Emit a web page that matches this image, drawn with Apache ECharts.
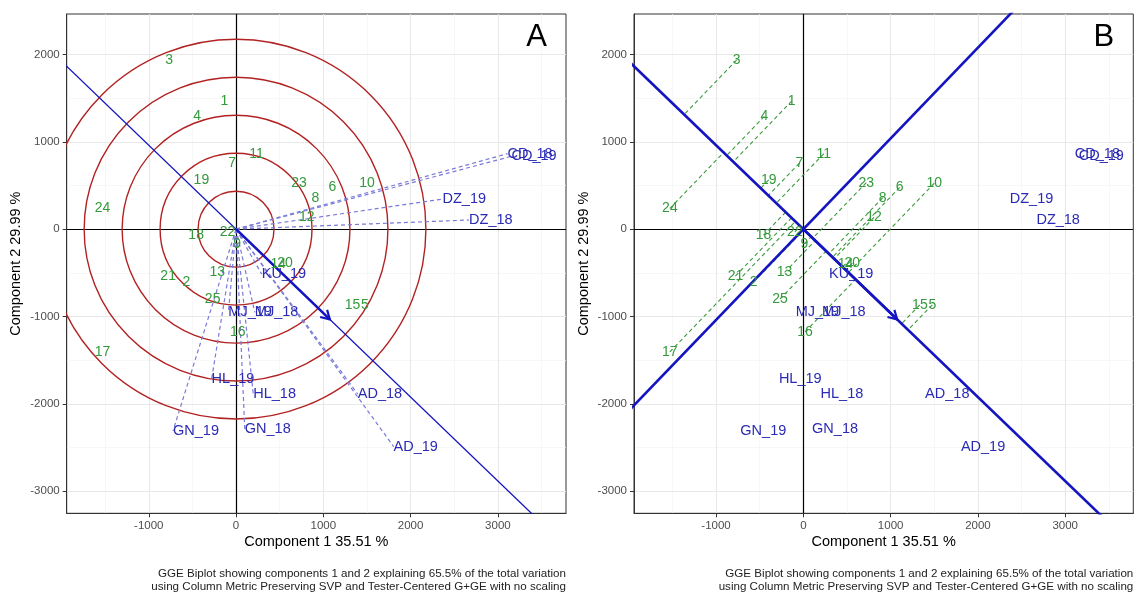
<!DOCTYPE html>
<html><head><meta charset="utf-8">
<script src="https://cdn.jsdelivr.net/npm/echarts@6/dist/echarts.min.js"></script>
<style>html,body{margin:0;padding:0;background:#fff}#c{width:1135px;height:593px}</style>
</head><body><div id="c"></div>
<script>
// ---------- data ----------
const genotypes = ['1','2','3','4','5','6','7','8','9','10','11','12','13','14','15','16','17','18','19','20','21','22','23','24','25'];
const genX = [-133, -568, -765, -447, 1477, 1103, -46, 909, 13, 1500, 235, 810, -215, 484, 1335, 20, -1530, -457, -397, 561, -778, -97, 721, -1529, -268];
const genY = [1468, -605, 1937, 1292, -866, 478, 755, 360, -166, 526, 865, 135, -496, -397, -866, -1176, -1407, -69, 564, -389, -537, -30, 533, 238, -801];

const environments = ['AD_18','AD_19','CD_18','CD_19','DZ_18','DZ_19','GN_18','GN_19','HL_18','HL_19','KU_19','MJ_18','MJ_19'];
const envX = [1395, 1805, 3110, 3155, 2670, 2365, 100, -722, 197, -280, 294, 215, -88];
const envY = [-1890, -2490, 865, 835, 105, 345, -2290, -2310, -1888, -1716, -515, -954, -954];

const aeaArrow = [1075, -1034];              // average environment vector
const circleRadii = [435, 870, 1305, 1740, 2175];

const xTicks = [-1000, 0, 1000, 2000, 3000];
const yTicks = [-3000, -2000, -1000, 0, 1000, 2000];
const xMinor = [-1500, -500, 500, 1500, 2500, 3500];
const yMinor = [-2500, -1500, -500, 500, 1500];
const xRange = [-1940, 3780];
const yRange = [-3255, 2465];

const xTitle = 'Component 1 35.51 %';
const yTitle = 'Component 2 29.99 %';
const caption1 = 'GGE Biplot showing components 1 and 2 explaining 65.5% of the total variation';
const caption2 = 'using Column Metric Preserving SVP and Tester-Centered G+GE with no scaling';
const panelLetters = ['A', 'B'];

// ---------- styles ----------
const FONT = '"Liberation Sans", Arial, Helvetica, sans-serif';
const GREEN = '#33993a';
const BLUE_TXT = '#2a2ab4';
const BLUE_LINE = '#1414c0';
const RED = '#b22222';

const grids = [
  {left: 66.7, top: 14, width: 499.3, height: 499.3},
  {left: 634, top: 14, width: 499.3, height: 499.3}
];

const chart = echarts.init(document.getElementById('c'), null, {renderer: 'canvas'});

function plain(v) { return String(v); }

function axisPair(i) {
  return {
    x: {
      type: 'value', gridIndex: i, min: xRange[0], max: xRange[1],
      axisLine: {show: true, onZero: false, lineStyle: {color: '#333', width: 1}},
      axisTick: {show: true, length: 4, customValues: xTicks, lineStyle: {color: '#333'}},
      axisLabel: {show: true, customValues: xTicks, formatter: plain, color: '#4d4d4d', fontSize: 11.5, margin: 7, fontFamily: FONT},
      splitLine: {show: false}
    },
    y: {
      type: 'value', gridIndex: i, min: yRange[0], max: yRange[1],
      axisLine: {show: true, onZero: false, lineStyle: {color: '#333', width: 1}},
      axisTick: {show: true, length: 4, customValues: yTicks, lineStyle: {color: '#333'}},
      axisLabel: {show: true, customValues: yTicks, formatter: plain, color: '#4d4d4d', fontSize: 11.5, margin: 7, fontFamily: FONT},
      splitLine: {show: false}
    }
  };
}
const ax = [axisPair(0), axisPair(1)];

function seg(a, b) { return {coords: [a, b]}; }
function linesSeries(i, data, style, z) {
  return {type: 'lines', coordinateSystem: 'cartesian2d', xAxisIndex: i, yAxisIndex: i,
    data: data, lineStyle: style, silent: true, z: z, symbol: ['none', 'none'], animation: false};
}

function gridSeries(i) {
  const major = [], minor = [];
  xTicks.forEach(v => major.push(seg([v, yRange[0]], [v, yRange[1]])));
  yTicks.forEach(v => major.push(seg([xRange[0], v], [xRange[1], v])));
  xMinor.forEach(v => minor.push(seg([v, yRange[0]], [v, yRange[1]])));
  yMinor.forEach(v => minor.push(seg([xRange[0], v], [xRange[1], v])));
  return [
    linesSeries(i, minor, {color: '#f3f3f3', width: 0.7, opacity: 1}, 0),
    linesSeries(i, major, {color: '#e8e8e8', width: 1.1, opacity: 1}, 0),
    linesSeries(i, [seg([0, yRange[0]], [0, yRange[1]]), seg([xRange[0], 0], [xRange[1], 0])],
      {color: '#000', width: 1.2, opacity: 1}, 2)
  ];
}

function lineThrough(i, slope, width, z) {
  const x0 = xRange[0] - 400, x1 = xRange[1] + 400;
  return {type: 'line', xAxisIndex: i, yAxisIndex: i, data: [[x0, slope * x0], [x1, slope * x1]],
    symbol: 'none', clip: true, silent: true, z: z, animation: false,
    lineStyle: {color: BLUE_LINE, width: width}};
}

function arrowSeries(i) {
  return [
    linesSeries(i, [seg([0, 0], aeaArrow)], {color: BLUE_LINE, width: 2.6, opacity: 1}, 6),
    {type: 'custom', xAxisIndex: i, yAxisIndex: i, data: [aeaArrow], silent: true, z: 6, animation: false,
      renderItem: function (params, api) {
        const o = api.coord([0, 0]);
        const t = api.coord([api.value(0), api.value(1)]);
        const ang = Math.atan2(t[1] - o[1], t[0] - o[0]);
        const L = 10, a = Math.PI / 6;
        const p1 = [t[0] - L * Math.cos(ang - a), t[1] - L * Math.sin(ang - a)];
        const p2 = [t[0] - L * Math.cos(ang + a), t[1] - L * Math.sin(ang + a)];
        return {type: 'polyline', shape: {points: [p1, t, p2]},
          style: {fill: null, stroke: BLUE_LINE, lineWidth: 2.2}};
      }}
  ];
}

function textSeries(i, names, xs, ys, color, size, align) {
  return {type: 'custom', xAxisIndex: i, yAxisIndex: i, silent: true, z: 10, animation: false,
    data: names.map((n, k) => [xs[k], ys[k], k]),
    renderItem: function (params, api) {
      const p = api.coord([api.value(0), api.value(1)]);
      return {type: 'text', x: p[0], y: p[1],
        style: {text: names[api.value(2)], align: align, verticalAlign: 'middle',
          fill: color, fontSize: size, fontFamily: FONT}};
    }};
}
function genLabels(i) { return textSeries(i, genotypes, genX, genY, GREEN, 14, 'center'); }
function envLabels(i) { return textSeries(i, environments, envX, envY, BLUE_TXT, 14.5, 'left'); }

const slopeAEA = aeaArrow[1] / aeaArrow[0];
const slopeOrd = -aeaArrow[0] / aeaArrow[1];
const uLen = Math.hypot(aeaArrow[0], aeaArrow[1]);
const ux = aeaArrow[0] / uLen, uy = aeaArrow[1] / uLen;

const series = [];
// Panel A
series.push(...gridSeries(0));
series.push({type: 'custom', xAxisIndex: 0, yAxisIndex: 0, clip: true, silent: true, z: 3, animation: false,
  data: circleRadii.map(r => [r, 0]),
  renderItem: function (params, api) {
    const r = api.value(0);
    const c = api.coord([0, 0]);
    const px = api.coord([r, 0]);
    const py = api.coord([0, r]);
    const rad = ((px[0] - c[0]) + (c[1] - py[1])) / 2;
    return {type: 'circle', shape: {cx: c[0], cy: c[1], r: rad},
      style: {fill: null, stroke: RED, lineWidth: 1.4}};
  }});
series.push(linesSeries(0, environments.map((e, k) => seg([0, 0], [envX[k], envY[k]])),
  {color: '#7a7ad8', width: 1.2, type: [4, 3], opacity: 1}, 4));
series.push(lineThrough(0, slopeAEA, 1.3, 5));
series.push(...arrowSeries(0));
series.push(genLabels(0));
series.push(envLabels(0));

// Panel B
series.push(...gridSeries(1));
series.push(linesSeries(1, genotypes.map((g, k) => {
  const d = genX[k] * ux + genY[k] * uy;
  return seg([genX[k], genY[k]], [d * ux, d * uy]);
}), {color: '#3a9a3a', width: 1.1, type: [4, 3], opacity: 1}, 4));
series.push(lineThrough(1, slopeAEA, 2.6, 5));
series.push(lineThrough(1, slopeOrd, 2.6, 5));
series.push(...arrowSeries(1));
series.push(genLabels(1));
series.push(envLabels(1));

// texts
const graphics = [];
grids.forEach((g, i) => {
  const cx = g.left + g.width / 2, cy = g.top + g.height / 2;
  const right = g.left + g.width;
  graphics.push({type: 'text', x: cx, y: 541.5, silent: true,
    style: {text: xTitle, align: 'center', verticalAlign: 'middle', fontSize: 14.5, fill: '#000', fontFamily: FONT}});
  graphics.push({type: 'text', x: g.left - 50.5, y: cy, rotation: Math.PI / 2, silent: true,
    style: {text: yTitle, align: 'center', verticalAlign: 'middle', fontSize: 14.5, fill: '#000', fontFamily: FONT}});
  graphics.push({type: 'text', x: right, y: 574, silent: true,
    style: {text: caption1, align: 'right', verticalAlign: 'middle', fontSize: 11.6, fill: '#222', fontFamily: FONT}});
  graphics.push({type: 'text', x: right, y: 586.5, silent: true,
    style: {text: caption2, align: 'right', verticalAlign: 'middle', fontSize: 11.6, fill: '#222', fontFamily: FONT}});
  graphics.push({type: 'text', x: right - 29.5, y: 37, silent: true, z: 20,
    style: {text: panelLetters[i], align: 'center', verticalAlign: 'middle', fontSize: 31, fill: '#000', fontFamily: FONT}});
});

chart.setOption({
  animation: false,
  backgroundColor: '#fff',
  grid: grids.map(g => Object.assign({show: true, borderColor: '#333', borderWidth: 1, backgroundColor: '#fff', containLabel: false}, g)),
  xAxis: [ax[0].x, ax[1].x],
  yAxis: [ax[0].y, ax[1].y],
  series: series,
  graphic: graphics
});
</script></body></html>
